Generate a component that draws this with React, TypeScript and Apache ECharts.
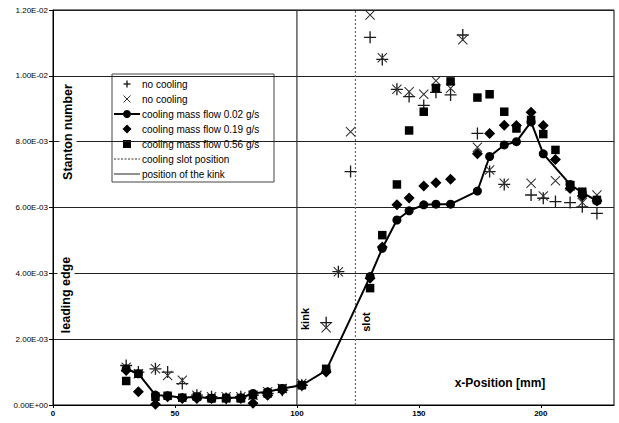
import React, { useEffect, useRef } from "react";
import * as echarts from "echarts";

// x positions in mm
const xPositions = [30, 35, 42, 47, 53, 59, 65, 71, 77, 82, 88, 94, 102, 112, 117, 122, 130, 135, 141, 146, 152, 157, 163, 168, 174, 179, 185, 190, 196, 201, 206, 212, 217, 223];

// Stanton number values in units of 1E-03
const noCoolingPlus = [1.2, 1.0, 1.1, 1.0, 0.65, 0.3, 0.25, 0.2, 0.25, 0.3, 0.35, 0.45, 0.6, 2.5, 4.05, 7.09, 11.17, 10.5, 9.59, 9.37, 9.1, 9.5, 9.42, 11.24, 8.25, 7.09, 6.7, null, 6.38, 6.28, 6.18, 6.15, 6.02, 5.82];
const noCoolingCross = [1.15, 0.95, 1.1, 0.9, 0.75, 0.3, 0.25, 0.25, 0.25, 0.3, 0.4, 0.5, 0.65, 2.35, 4.05, 8.3, 11.85, 10.55, 9.59, 9.52, 9.44, 9.85, 9.62, 11.1, 7.83, 7.14, 6.74, null, 6.74, 6.35, 6.81, 6.65, 6.15, 6.38];
const flow002 = [1.1, 0.95, 0.3, 0.28, 0.22, 0.25, 0.2, 0.22, 0.22, 0.35, 0.4, 0.5, 0.6, 1.05, null, null, 3.9, 4.76, 5.62, 5.9, 6.08, 6.1, 6.1, null, 6.5, 7.55, 7.9, 8.0, 8.6, 7.63, null, 6.7, 6.45, 6.2];
const flow019 = [1.05, 0.4, 0.02, 0.25, 0.2, 0.2, 0.2, 0.2, 0.2, 0.05, 0.3, 0.45, 0.6, 1.0, null, null, 3.85, 4.8, 6.08, 6.29, 6.65, 6.75, 6.86, null, 7.63, 8.25, 8.5, 8.49, 8.89, 8.49, 7.46, 6.58, 6.35, 6.2];
const flow056 = [0.73, 0.95, 0.25, 0.28, 0.22, 0.25, 0.2, 0.2, 0.2, 0.3, 0.35, 0.5, 0.6, 1.1, null, null, 3.55, 5.16, 6.7, 8.34, 8.91, 9.63, 9.83, null, 9.34, 9.44, 8.91, 8.4, 8.66, 8.23, 7.75, 6.68, 6.48, 6.23];

const kinkX = 100;
const slotX = 124;

const legendLabels = [
  "no cooling",
  "no cooling",
  "cooling mass flow 0.02 g/s",
  "cooling mass flow 0.19 g/s",
  "cooling mass flow 0.56 g/s",
  "cooling slot position",
  "position of the kink",
];

const xMin = 0;
const xMax = 230;
const xInterval = 50;
const yMin = 0;
const yMax = 12;
const yInterval = 2;

const FONT = '"Liberation Sans", Arial, sans-serif';

const plusPath = "path://M4.45,0H5.55V10H4.45Z M0,4.45H10V5.55H0Z";
const crossPath = "path://M0,0.75L0.75,0L10,9.25L9.25,10Z M9.25,0L10,0.75L0.75,10L0,9.25Z";

function zip(vals: (number | null)[]) {
  return xPositions.map((x, i) => [x, vals[i] === null ? null : vals[i]]).filter((p) => p[1] !== null);
}

function sci(v: number) {
  const s = (v * 1e-3).toExponential(2);
  const [m, e] = s.split("e");
  const sign = e[0];
  const digits = e.slice(1).padStart(2, "0");
  return m + "E" + sign + digits;
}

export default function App() {
  const ref = useRef<HTMLDivElement>(null);
  useEffect(() => {
    if (!ref.current) return;
    const chart = echarts.init(ref.current, undefined, { renderer: "svg" });

    const lx = 112, ly = 74, lw = 162, lh = 108;
    const iconCx = 127, textX = 142;
    const rowY = (i: number) => 84 + 15 * i;
    const legendChildren: any[] = [
      { type: "rect", shape: { x: lx, y: ly, width: lw, height: lh }, style: { fill: "#fff", stroke: "#444", lineWidth: 1 } },
      { type: "line", shape: { x1: iconCx - 3.5, y1: rowY(0), x2: iconCx + 3.5, y2: rowY(0) }, style: { stroke: "#111", lineWidth: 1.3 } },
      { type: "line", shape: { x1: iconCx, y1: rowY(0) - 3.5, x2: iconCx, y2: rowY(0) + 3.5 }, style: { stroke: "#111", lineWidth: 1.3 } },
      { type: "line", shape: { x1: iconCx - 3.5, y1: rowY(1) - 3.5, x2: iconCx + 3.5, y2: rowY(1) + 3.5 }, style: { stroke: "#333", lineWidth: 1 } },
      { type: "line", shape: { x1: iconCx - 3.5, y1: rowY(1) + 3.5, x2: iconCx + 3.5, y2: rowY(1) - 3.5 }, style: { stroke: "#333", lineWidth: 1 } },
      { type: "line", shape: { x1: 114, y1: rowY(2), x2: 140, y2: rowY(2) }, style: { stroke: "#000", lineWidth: 2 } },
      { type: "circle", shape: { cx: iconCx, cy: rowY(2), r: 4 }, style: { fill: "#000" } },
      { type: "polygon", shape: { points: [[iconCx, rowY(3) - 4.5], [iconCx + 4.5, rowY(3)], [iconCx, rowY(3) + 4.5], [iconCx - 4.5, rowY(3)]] }, style: { fill: "#000" } },
      { type: "rect", shape: { x: iconCx - 4, y: rowY(4) - 4, width: 8, height: 8 }, style: { fill: "#000" } },
      { type: "line", shape: { x1: 114, y1: rowY(5), x2: 140, y2: rowY(5) }, style: { stroke: "#333", lineWidth: 1, lineDash: [2, 1.5] } },
      { type: "line", shape: { x1: 114, y1: rowY(6), x2: 140, y2: rowY(6) }, style: { stroke: "#222", lineWidth: 1 } },
    ];
    legendLabels.forEach((t, i) => {
      legendChildren.push({
        type: "text",
        x: textX,
        y: rowY(i),
        style: { text: t, font: `10px ${FONT}`, fill: "#000", align: "left", verticalAlign: "middle" },
      });
    });

    const option: any = {
      animation: false,
      backgroundColor: "#fff",
      grid: { left: 53, right: 5, top: 10, bottom: 18, show: true, borderColor: "#000", borderWidth: 1, containLabel: false },
      xAxis: {
        type: "value",
        min: xMin,
        max: xMax,
        interval: xInterval,
        axisLine: { show: true, onZero: false, lineStyle: { color: "#000", width: 1 } },
        axisTick: { show: true, length: 3, lineStyle: { color: "#000" } },
        axisLabel: { showMaxLabel: false, fontSize: 8, fontWeight: "bold", color: "#000", fontFamily: FONT, margin: 4 },
        splitLine: { show: false },
      },
      yAxis: {
        type: "value",
        min: yMin,
        max: yMax,
        interval: yInterval,
        axisLine: { show: true, onZero: false, lineStyle: { color: "#000", width: 1 } },
        axisTick: { show: true, length: 4, lineStyle: { color: "#000" } },
        axisLabel: { fontSize: 8, color: "#000", fontFamily: FONT, margin: 5, formatter: (v: number) => sci(v) },
        splitLine: { show: true, lineStyle: { color: "#222", width: 1 } },
      },
      series: [
        {
          name: "kink",
          type: "line",
          data: [[kinkX, yMin], [kinkX, yMax]],
          symbol: "none",
          lineStyle: { color: "#333", width: 1.2 },
          z: 1,
        },
        {
          name: "slot",
          type: "line",
          data: [[slotX, yMin], [slotX, yMax]],
          symbol: "none",
          lineStyle: { color: "#666", width: 1.2, type: [2, 2] },
          z: 1,
        },
        {
          name: "no cooling +",
          type: "scatter",
          data: zip(noCoolingPlus),
          symbol: plusPath,
          symbolSize: 12,
          itemStyle: { color: "#1a1a1a", opacity: 1 },
          z: 2,
        },
        {
          name: "no cooling x",
          type: "scatter",
          data: zip(noCoolingCross),
          symbol: crossPath,
          symbolSize: 10,
          itemStyle: { color: "#333", opacity: 1 },
          z: 2,
        },
        {
          name: "cooling mass flow 0.02 g/s",
          type: "line",
          data: zip(flow002),
          connectNulls: true,
          symbol: "circle",
          symbolSize: 9,
          showAllSymbol: true,
          lineStyle: { color: "#000", width: 2 },
          itemStyle: { color: "#000", opacity: 1 },
          z: 3,
        },
        {
          name: "cooling mass flow 0.19 g/s",
          type: "scatter",
          data: zip(flow019),
          symbol: "diamond",
          symbolSize: 11,
          itemStyle: { color: "#000", opacity: 1 },
          z: 3,
        },
        {
          name: "cooling mass flow 0.56 g/s",
          type: "scatter",
          data: zip(flow056),
          symbol: "rect",
          symbolSize: 8.5,
          itemStyle: { color: "#000", opacity: 1 },
          z: 3,
        },
      ],
      graphic: [
        { type: "group", z: 100, children: legendChildren },
        {
          type: "text", z: 100, x: 68, y: 132, rotation: Math.PI / 2,
          style: { text: "Stanton number", font: `bold 12.5px ${FONT}`, fill: "#000", align: "center", verticalAlign: "middle", backgroundColor: "#fff", padding: [2, 2] },
        },
        {
          type: "text", z: 100, x: 66, y: 295, rotation: Math.PI / 2,
          style: { text: "leading edge", font: `bold 12.5px ${FONT}`, fill: "#000", align: "center", verticalAlign: "middle", backgroundColor: "#fff", padding: [2, 2] },
        },
        {
          type: "text", z: 100, x: 305, y: 319, rotation: Math.PI / 2,
          style: { text: "kink", font: `bold 11px ${FONT}`, fill: "#000", align: "center", verticalAlign: "middle" },
        },
        {
          type: "text", z: 100, x: 366, y: 322, rotation: Math.PI / 2,
          style: { text: "slot", font: `bold 11px ${FONT}`, fill: "#000", align: "center", verticalAlign: "middle" },
        },
        {
          type: "text", z: 100, x: 500, y: 383,
          style: { text: "x-Position [mm]", font: `bold 12px ${FONT}`, fill: "#000", align: "center", verticalAlign: "middle" },
        },
      ],
    };
    chart.setOption(option);
    return () => chart.dispose();
  }, []);

  return (
    <div
      ref={ref}
      style={{ position: "fixed", left: 0, top: 0, width: 619, height: 423, background: "#fff" }}
    />
  );
}
